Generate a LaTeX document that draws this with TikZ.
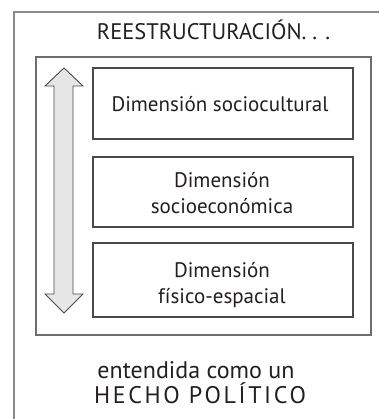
\documentclass[tikz,border=0pt]{standalone}
\usepackage{fontspec}
\setmainfont{PT Sans}
\definecolor{framegray}{HTML}{8A8A8A}
\definecolor{innergray}{HTML}{6E6E6E}
\definecolor{boxgray}{HTML}{4A4A4A}
\definecolor{txt}{HTML}{231F20}
\definecolor{arrowfill}{HTML}{E6E6E6}
\tikzset{
  dimbox/.style={draw=boxgray, line width=1.2pt, minimum width=260pt, inner sep=0pt},
  lbl/.style={text=txt, inner sep=0pt, anchor=base},
  dimtext/.style={lbl, font=\fontsize{21}{26}\selectfont}
}
\begin{document}
\begin{tikzpicture}[x=1pt,y=-1pt]
\useasboundingbox (0,0) rectangle (379,419);
% outer frame (cropped)
\draw[framegray, line width=1.5pt] (14,419) -- (14,12) -- (379,12);
% title
\node[lbl, font=\fontsize{22.5}{26}\selectfont] (title) at (213.5,39.3) {REESTRUCTURACIÓN. . .};
% inner box
\node[draw=innergray, line width=1.3pt, minimum width=335pt, minimum height=278pt, inner sep=0pt] (inner) at (203.5,196) {};
% dimension boxes
\node[dimbox, minimum height=71pt] (b1) at (223,103.5) {};
\node[dimbox, minimum height=70pt] (b2) at (223,192) {};
\node[dimbox, minimum height=74pt] (b3) at (223,280) {};
\node[dimtext] (t1) at (220,112) {Dimensión sociocultural};
\node[dimtext] (t2a) at (222,188) {Dimensión};
\node[dimtext] (t2b) at (222,214) {socioeconómica};
\node[dimtext] (t3a) at (222,277) {Dimensión};
\node[dimtext] (t3b) at (222,303) {físico-espacial};
% double arrow
\draw[boxgray, fill=arrowfill, line width=0.9pt, line join=miter]
  (64,68) -- (83,86) -- (73,86) -- (73,294) -- (83,294) -- (64,313)
  -- (45,294) -- (54,294) -- (54,86) -- (45,86) -- cycle;
% bottom text
\node[lbl, font=\fontsize{24}{28}\selectfont] (bottom1) at (196,378) {entendida como un};
\node[lbl, font=\fontsize{24}{28}\selectfont] (bottom2) at (200,403) {\addfontfeatures{LetterSpace=11}HECHO POLÍTICO};
\end{tikzpicture}
\end{document}
